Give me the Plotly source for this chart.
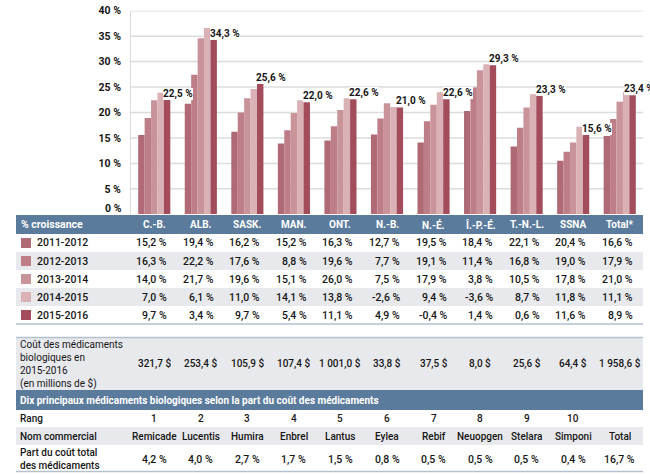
import plotly.graph_objects as go

W, H = 650, 475

categories = ["C.-B.", "ALB.", "SASK.", "MAN.", "ONT.", "N.-B.", "N.-É.", "Î.-P.-É.", "T.-N.-L.", "SSNA", "Total*"]
periods = ["2011-2012", "2012-2013", "2013-2014", "2014-2015", "2015-2016"]

# bar heights
bars_2011 = [15.6, 21.7, 16.2, 13.9, 14.5, 15.7, 14.1, 20.3, 13.3, 10.5, 15.4]
bars_2012 = [18.9, 27.4, 20.0, 16.5, 17.3, 18.8, 18.3, 24.9, 17.0, 12.3, 18.7]
bars_2013 = [22.4, 34.6, 22.8, 19.9, 20.5, 21.8, 21.5, 28.3, 21.0, 14.1, 22.1]
bars_2014 = [23.9, 36.6, 24.6, 22.4, 22.8, 21.1, 24.0, 29.5, 23.6, 17.2, 24.1]
bars_2015 = [22.5, 34.3, 25.6, 22.0, 22.6, 21.0, 22.6, 29.3, 23.3, 15.6, 23.4]

# growth table
growth_2011 = [15.2, 19.4, 16.2, 15.2, 16.3, 12.7, 19.5, 18.4, 22.1, 20.4, 16.6]
growth_2012 = [16.3, 22.2, 17.6, 8.8, 19.6, 7.7, 19.1, 11.4, 16.8, 19.0, 17.9]
growth_2013 = [14.0, 21.7, 19.6, 15.1, 26.0, 7.5, 17.9, 3.8, 10.5, 17.8, 21.0]
growth_2014 = [7.0, 6.1, 11.0, 14.1, 13.8, -2.6, 9.4, -3.6, 8.7, 11.8, 11.1]
growth_2015 = [9.7, 3.4, 9.7, 5.4, 11.1, 4.9, -0.4, 1.4, 0.6, 11.6, 8.9]

costs = [321.7, 253.4, 105.9, 107.4, 1001.0, 33.8, 37.5, 8.0, 25.6, 64.4, 1958.6]

ranks = ["1", "2", "3", "4", "5", "6", "7", "8", "9", "10", ""]
drug_names = ["Remicade", "Lucentis", "Humira", "Enbrel", "Lantus", "Eylea", "Rebif", "Neuopgen", "Stelara", "Simponi", "Total"]
drug_shares = [4.2, 4.0, 2.7, 1.7, 1.5, 0.8, 0.5, 0.5, 0.5, 0.4, 16.7]

y_ticks = [5, 10, 15, 20, 25, 30, 35, 40]

colors = ["#b06a75", "#bd7e88", "#c9939a", "#dab1b5", "#a24c5c"]

NUM = "Roboto, sans-serif"
REG = "Roboto, sans-serif"
TXT = "#161616"
BLUE = "#5b7b9d"
GRAY = "#e8e9ed"
LINE = "#b3c1d0"
GRID = "#dcdcdc"

# plot area geometry (pixels)
PL, PR_GRID, PR = 131, 643, 650
CAT_W = (PR_GRID - PL) / len(categories)


def X(px):
    return px / W


def Y(py):
    return 1 - py / H


def fr(v, suffix):
    s = f"{v:,.1f}".replace(",", " ").replace(".", ",")
    return s + suffix


fig = go.Figure()
bar_series = [bars_2011, bars_2012, bars_2013, bars_2014, bars_2015]
for name, vals, col in zip(periods, bar_series, colors):
    fig.add_trace(go.Bar(x=categories, y=vals, name=name, marker=dict(color=col, line=dict(width=0)),
                         showlegend=False, hoverinfo="skip"))

shapes = []
ann = []

# horizontal gridlines (limited to the reference's grid extent)
for t in y_ticks:
    shapes.append(dict(type="line", xref="paper", yref="y", x0=X(PL), x1=X(PR_GRID), y0=t, y1=t,
                       line=dict(color=GRID, width=1.5), layer="below"))

# top table shapes
shapes.append(dict(type="rect", xref="paper", yref="paper", x0=X(16), x1=X(643), y0=Y(234), y1=Y(215),
                   fillcolor=BLUE, line=dict(width=0), layer="below"))
for (a, b) in [(252, 270), (288, 306)]:
    shapes.append(dict(type="rect", xref="paper", yref="paper", x0=X(16), x1=X(643), y0=Y(b), y1=Y(a),
                       fillcolor=GRAY, line=dict(width=0), layer="below"))
shapes.append(dict(type="line", xref="paper", yref="paper", x0=X(16), x1=X(643), y0=Y(324), y1=Y(324),
                   line=dict(color=LINE, width=1.5)))

# bottom table shapes
shapes.append(dict(type="line", xref="paper", yref="paper", x0=X(16), x1=X(643), y0=Y(337.5), y1=Y(337.5),
                   line=dict(color=LINE, width=1.5)))
shapes.append(dict(type="rect", xref="paper", yref="paper", x0=X(16), x1=X(643), y0=Y(390), y1=Y(338),
                   fillcolor=GRAY, line=dict(width=0), layer="below"))
shapes.append(dict(type="rect", xref="paper", yref="paper", x0=X(16), x1=X(643), y0=Y(410), y1=Y(390),
                   fillcolor=BLUE, line=dict(width=0), layer="below"))
shapes.append(dict(type="rect", xref="paper", yref="paper", x0=X(16), x1=X(643), y0=Y(445), y1=Y(427),
                   fillcolor=GRAY, line=dict(width=0), layer="below"))
shapes.append(dict(type="line", xref="paper", yref="paper", x0=X(16), x1=X(643), y0=Y(471.5), y1=Y(471.5),
                   line=dict(color=LINE, width=1.5)))

# zero tick label (sits just above the table header)
ann.append(dict(x=X(124), y=Y(208.5), xref="paper", yref="paper", text="0 %", showarrow=False,
                xanchor="right", yanchor="middle", font=dict(family=NUM, size=10.5, color=TXT, weight="bold")))

# bar labels (white box hides the gridlines behind the text)
n_cat = len(categories)
for i, (c, v) in enumerate(zip(categories, bars_2015)):
    ann.append(dict(x=c, y=v, xref="x", yref="y", text=fr(v, " %"), showarrow=False, xanchor="left",
                    yanchor="bottom", xshift=9 if i < n_cat - 1 else 4, yshift=0, bgcolor="white",
                    borderpad=0, borderwidth=0,
                    font=dict(family=NUM, size=10, color=TXT, weight="bold")))

# header row
ann.append(dict(x=X(19), y=Y(224.5), xref="paper", yref="paper", text="% croissance", showarrow=False,
                xanchor="left", yanchor="middle", font=dict(family=NUM, size=10.5, color="white", weight="bold")))
for c in categories:
    ann.append(dict(x=c, y=Y(224.5), xref="x", yref="paper", text=c, showarrow=False, xanchor="center",
                    yanchor="middle", font=dict(family=NUM, size=10, color="white", weight="bold")))

growth_series = [growth_2011, growth_2012, growth_2013, growth_2014, growth_2015]
row_y = [243, 261, 279, 297, 315]
for p, vals, col, ry in zip(periods, growth_series, colors, row_y):
    shapes.append(dict(type="rect", xref="paper", yref="paper", x0=X(21), x1=X(31), y0=Y(ry + 5), y1=Y(ry - 5),
                       fillcolor=col, line=dict(width=0)))
    ann.append(dict(x=X(35), y=Y(ry), xref="paper", yref="paper", text=p, showarrow=False, xanchor="left",
                    yanchor="middle", font=dict(family=NUM, size=10.5, color=TXT, weight=500)))
    for c, v in zip(categories, vals):
        ann.append(dict(x=c, y=Y(ry), xref="x", yref="paper", text=fr(v, " %"), showarrow=False,
                        xanchor="right", yanchor="middle", xshift=15,
                        font=dict(family=NUM, size=10.5, color=TXT, weight=500)))

# cost row
ann.append(dict(x=X(18), y=Y(364), xref="paper", yref="paper",
                text="Coût des médicaments<br>biologiques en<br>2015-2016<br>(en millions de $)",
                showarrow=False, xanchor="left", yanchor="middle", align="left",
                font=dict(family=REG, size=10, color=TXT)))
for c, v in zip(categories, costs):
    ann.append(dict(x=c, y=Y(363), xref="x", yref="paper", text=fr(v, " $"), showarrow=False,
                    xanchor="center", yanchor="middle", font=dict(family=NUM, size=10, color=TXT, weight=500)))

ann.append(dict(x=X(18), y=Y(400), xref="paper", yref="paper",
                text="Dix principaux médicaments biologiques selon la part du coût des médicaments",
                showarrow=False, xanchor="left", yanchor="middle",
                font=dict(family=NUM, size=10, color="white", weight="bold")))

ann.append(dict(x=X(18), y=Y(418), xref="paper", yref="paper", text="Rang", showarrow=False,
                xanchor="left", yanchor="middle", font=dict(family=REG, size=10, color=TXT, weight=500)))
ann.append(dict(x=X(18), y=Y(436.5), xref="paper", yref="paper", text="Nom commercial", showarrow=False,
                xanchor="left", yanchor="middle", font=dict(family=REG, size=10, color=TXT, weight=500)))
ann.append(dict(x=X(18), y=Y(459), xref="paper", yref="paper", text="Part du coût total<br>des médicaments",
                showarrow=False, xanchor="left", yanchor="middle", align="left",
                font=dict(family=REG, size=10, color=TXT, weight=500)))
for c, r, n, s in zip(categories, ranks, drug_names, drug_shares):
    ann.append(dict(x=c, y=Y(418), xref="x", yref="paper", text=r, showarrow=False,
                    xanchor="center", yanchor="middle", font=dict(family=REG, size=10, color=TXT, weight=500)))
    ann.append(dict(x=c, y=Y(436.5), xref="x", yref="paper", text=n, showarrow=False,
                    xanchor="center", yanchor="middle", font=dict(family=REG, size=10, color=TXT, weight=500)))
    ann.append(dict(x=c, y=Y(459), xref="x", yref="paper", text=fr(s, " %"), showarrow=False,
                    xanchor="center", yanchor="middle", font=dict(family=NUM, size=10.5, color=TXT, weight=500)))

fig.update_layout(
    width=W, height=H,
    margin=dict(l=0, r=0, t=0, b=0, autoexpand=False),
    paper_bgcolor="white", plot_bgcolor="white",
    barmode="group", bargap=0.31, bargroupgap=0,
    xaxis=dict(domain=[X(PL), X(PR)], type="category",
               range=[-0.5, len(categories) - 0.5 + (PR - PR_GRID) / CAT_W], showticklabels=False,
               showgrid=False, zeroline=False, showline=False, ticks="", automargin=False),
    yaxis=dict(domain=[Y(214.3), Y(10.7)], range=[0, 40], tickvals=y_ticks,
               ticktext=[f"{t} %" for t in y_ticks], automargin=False,
               showgrid=False, zeroline=False,
               showline=True, linecolor=GRID, linewidth=1, ticks="", ticklabelstandoff=7,
               tickfont=dict(family=NUM, size=10.5, color=TXT, weight="bold")),
    shapes=shapes, annotations=ann,
)

fig.write_html("out.html", config={"displayModeBar": False},
               post_script=("document.documentElement.style.overflow='hidden';"
                            "document.body.style.overflow='hidden';"
                            "document.body.style.margin='0';document.body.style.padding='0';"))
